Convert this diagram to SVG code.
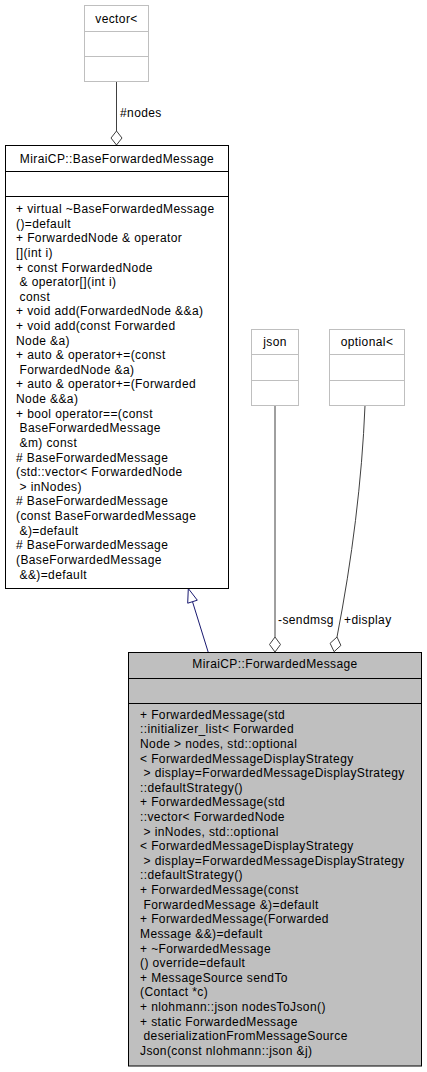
<svg xmlns="http://www.w3.org/2000/svg" width="427" height="1072" viewBox="0 0 427 1072">
<style>
text{font-family:"Liberation Sans",Arial,sans-serif;font-size:12px;letter-spacing:0.4px;fill:#000}
.c{text-anchor:middle}
.ext{fill:#fff;stroke:#bfbfbf;stroke-width:1}
.doc{fill:#fff;stroke:#000;stroke-width:1}
.cur{fill:#bfbfbf;stroke:#000;stroke-width:1}
.agg{fill:none;stroke:#404040;stroke-width:1}
.dia{fill:#fff;stroke:#404040;stroke-width:1}
.inh{fill:none;stroke:#191970;stroke-width:1}
.tri{fill:#fff;stroke:#191970;stroke-width:1}
</style>
<rect width="427" height="1072" fill="#fff"/>
<g id="connectors">
<path class="agg" d="M116.5,81.5 V131"/>
<polygon class="dia" points="116.5,131 122,138 116.5,145 111,138"/>
<text x="120" y="117">#nodes</text>
<path class="agg" d="M275,405.5 V637"/>
<polygon class="dia" points="275,637 280.5,644.5 275,652 269.5,644.5"/>
<text x="278" y="624">-sendmsg</text>
<path class="agg" d="M365,405.5 C362,480 352,560 337,637"/>
<polygon class="dia" points="337,637 340.9,645.4 334.1,651.7 330.1,643.3"/>
<text x="344" y="624">+display</text>
<path class="inh" d="M208.3,652.5 L192.5,601.7"/>
<polygon class="tri" points="188.3,588.5 197.3,600.2 187.7,603.2"/>
</g>
<g id="vector">
<rect class="ext" x="84.5" y="5.5" width="64" height="76"/>
<path class="ext" d="M84.5,31.5 H148.5 M84.5,56.5 H148.5"/>
<text class="c" x="116.5" y="22.5">vector&lt;</text>
</g>
<g id="json">
<rect class="ext" x="251.5" y="329.5" width="47" height="76"/>
<path class="ext" d="M251.5,354.5 H298.5 M251.5,380.5 H298.5"/>
<text class="c" x="275" y="346">json</text>
</g>
<g id="optional">
<rect class="ext" x="329.5" y="329.5" width="75" height="76"/>
<path class="ext" d="M329.5,354.5 H404.5 M329.5,380.5 H404.5"/>
<text class="c" x="367" y="346">optional&lt;</text>
</g>
<g id="BaseForwardedMessage">
<rect class="doc" x="5.5" y="145.5" width="223" height="443"/>
<path class="doc" d="M5.5,171.5 H228.5 M5.5,196.5 H228.5"/>
<text class="c" x="117" y="163">MiraiCP::BaseForwardedMessage</text>
<text x="16" y="213">+ virtual ~BaseForwardedMessage</text>
<text x="16" y="227.6">()=default</text>
<text x="16" y="242.2">+ ForwardedNode &amp; operator</text>
<text x="16" y="256.9">[](int i)</text>
<text x="16" y="271.5">+ const ForwardedNode</text>
<text x="19.5" y="286.1">&amp; operator[](int i)</text>
<text x="19.5" y="300.7">const</text>
<text x="16" y="315.3">+ void add(ForwardedNode &amp;&amp;a)</text>
<text x="16" y="330">+ void add(const Forwarded</text>
<text x="16" y="344.6">Node &amp;a)</text>
<text x="16" y="359.2">+ auto &amp; operator+=(const</text>
<text x="19.5" y="373.8">ForwardedNode &amp;a)</text>
<text x="16" y="388.4">+ auto &amp; operator+=(Forwarded</text>
<text x="16" y="403.1">Node &amp;&amp;a)</text>
<text x="16" y="417.7">+ bool operator==(const</text>
<text x="19.5" y="432.3">BaseForwardedMessage</text>
<text x="19.5" y="446.9">&amp;m) const</text>
<text x="16" y="461.5"># BaseForwardedMessage</text>
<text x="16" y="476.2">(std::vector&lt; ForwardedNode</text>
<text x="19.5" y="490.8">&gt; inNodes)</text>
<text x="16" y="505.4"># BaseForwardedMessage</text>
<text x="16" y="520">(const BaseForwardedMessage</text>
<text x="19.5" y="534.6">&amp;)=default</text>
<text x="16" y="549.3"># BaseForwardedMessage</text>
<text x="16" y="563.9">(BaseForwardedMessage</text>
<text x="19.5" y="578.5">&amp;&amp;)=default</text>
</g>
<g id="ForwardedMessage">
<rect class="cur" x="128.5" y="652.5" width="293" height="413.5"/>
<path class="cur" d="M128.5,678.5 H421.5 M128.5,703.5 H421.5"/>
<text class="c" x="275" y="668">MiraiCP::ForwardedMessage</text>
<text x="140" y="718.6">+ ForwardedMessage(std</text>
<text x="140" y="733.2">::initializer_list&lt; Forwarded</text>
<text x="140" y="747.8">Node &gt; nodes, std::optional</text>
<text x="140" y="762.5">&lt; ForwardedMessageDisplayStrategy</text>
<text x="143.5" y="777.1">&gt; display=ForwardedMessageDisplayStrategy</text>
<text x="140" y="791.7">::defaultStrategy()</text>
<text x="140" y="806.3">+ ForwardedMessage(std</text>
<text x="140" y="820.9">::vector&lt; ForwardedNode</text>
<text x="143.5" y="835.6">&gt; inNodes, std::optional</text>
<text x="140" y="850.2">&lt; ForwardedMessageDisplayStrategy</text>
<text x="143.5" y="864.8">&gt; display=ForwardedMessageDisplayStrategy</text>
<text x="140" y="879.4">::defaultStrategy()</text>
<text x="140" y="894">+ ForwardedMessage(const</text>
<text x="143.5" y="908.7">ForwardedMessage &amp;)=default</text>
<text x="140" y="923.3">+ ForwardedMessage(Forwarded</text>
<text x="140" y="937.9">Message &amp;&amp;)=default</text>
<text x="140" y="952.5">+ ~ForwardedMessage</text>
<text x="140" y="967.1">() override=default</text>
<text x="140" y="981.8">+ MessageSource sendTo</text>
<text x="140" y="996.4">(Contact *c)</text>
<text x="140" y="1011">+ nlohmann::json nodesToJson()</text>
<text x="140" y="1025.6">+ static ForwardedMessage</text>
<text x="143.5" y="1040.2">deserializationFromMessageSource</text>
<text x="140" y="1054.9">Json(const nlohmann::json &amp;j)</text>
</g>
</svg>
